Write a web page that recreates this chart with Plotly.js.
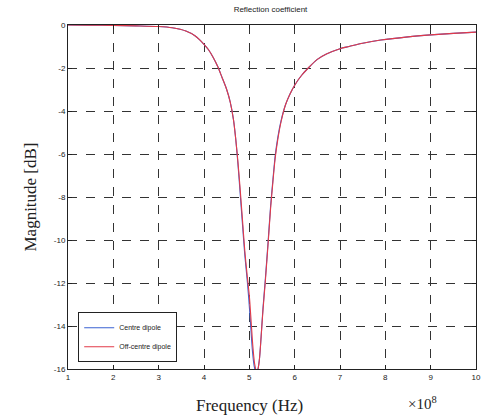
<!DOCTYPE html>
<html>
<head>
<meta charset="utf-8">
<script src="https://cdn.plot.ly/plotly-3.0.1.min.js"></script>
<style>html,body{margin:0;padding:0;background:#fff;}#chart{width:483px;height:420px;}</style>
</head>
<body>
<div id="chart"></div>
<script>
// Frequency in units of 1e8 Hz
const freqCentre = [1.0, 1.5, 2.0, 2.5, 3.0, 3.3, 3.6, 3.8, 3.9, 4.0, 4.1, 4.2, 4.3, 4.4, 4.5, 4.58, 4.65, 4.70, 4.75, 4.8, 4.85, 4.9, 4.95, 4.99, 5.03, 5.07, 5.11, 5.15, 5.18, 5.22, 5.26, 5.30, 5.35, 5.42, 5.47, 5.52, 5.57, 5.63, 5.7, 5.8, 5.9, 6.0, 6.15, 6.3, 6.5, 6.7, 7.0, 7.2, 7.5, 7.9, 8.5, 9.0, 9.5, 10.0];
const magCentre  = [0, -0.01, -0.02, -0.04, -0.07, -0.13, -0.28, -0.5, -0.68, -0.9, -1.15, -1.5, -1.92, -2.45, -3.0, -3.6, -4.4, -5.3, -6.5, -7.9, -9.3, -10.7, -11.8, -12.8, -14.0, -15.2, -15.9, -16.2, -16.1, -15.6, -14.5, -13.2, -11.9, -9.9, -8.4, -7.2, -6.1, -5.2, -4.45, -3.7, -3.2, -2.8, -2.35, -2.0, -1.6, -1.35, -1.1, -1.0, -0.85, -0.7, -0.55, -0.46, -0.39, -0.33];
const freqOff = [1.0, 1.5, 2.0, 2.5, 3.0, 3.3, 3.6, 3.8, 3.9, 4.0, 4.1, 4.2, 4.3, 4.4, 4.5, 4.58, 4.65, 4.70, 4.75, 4.8, 4.85, 4.9, 4.95, 5.0, 5.04, 5.08, 5.12, 5.16, 5.19, 5.22, 5.26, 5.30, 5.35, 5.42, 5.47, 5.52, 5.57, 5.63, 5.7, 5.8, 5.9, 6.0, 6.15, 6.3, 6.5, 6.7, 7.0, 7.2, 7.5, 7.9, 8.5, 9.0, 9.5, 10.0];
const magOff  = [0, -0.01, -0.02, -0.04, -0.07, -0.13, -0.28, -0.5, -0.68, -0.9, -1.15, -1.5, -1.92, -2.45, -3.0, -3.6, -4.4, -5.3, -6.4, -7.7, -9.1, -10.5, -11.6, -12.6, -13.8, -15.0, -15.8, -16.1, -16.0, -15.6, -14.5, -13.3, -12.0, -10.0, -8.5, -7.3, -6.2, -5.3, -4.5, -3.7, -3.2, -2.8, -2.35, -2.0, -1.6, -1.35, -1.1, -1.0, -0.85, -0.7, -0.55, -0.46, -0.39, -0.33];
const xTicks = [1, 2, 3, 4, 5, 6, 7, 8, 9, 10];
const yTicks = [0, -2, -4, -6, -8, -10, -12, -14, -16];
const seriesNames = ['Centre dipole', 'Off-centre dipole'];

const traces = [
  {x: freqCentre, y: magCentre, name: seriesNames[0], mode: 'lines', line: {color: '#3a62d2', width: 1.1, shape: 'spline', smoothing: 0.8}},
  {x: freqOff, y: magOff, name: seriesNames[1], mode: 'lines', line: {color: '#e23a48', width: 1.1, shape: 'spline', smoothing: 0.8}}
];

const serif = 'Liberation Serif, Times New Roman, serif';
const sans = 'Arial, Liberation Sans, sans-serif';

const layout = {
  width: 483, height: 420,
  margin: {l: 68, r: 7, t: 25, b: 51},
  paper_bgcolor: '#fff', plot_bgcolor: '#fff',
  title: {text: 'Reflection coefficient', font: {family: sans, size: 8, color: '#222'}, x: 0.56, xanchor: 'center', y: 0.985, yanchor: 'top'},
  xaxis: {
    range: [1, 10], tickvals: xTicks, ticktext: xTicks.map(String),
    ticks: 'inside', ticklen: 4, tickcolor: '#222', mirror: 'ticks',
    showline: true, linecolor: '#222', linewidth: 1,
    showgrid: true, gridcolor: '#333', griddash: 'dash', gridwidth: 1,
    zeroline: false,
    tickfont: {family: sans, size: 8, color: '#222'}
  },
  yaxis: {
    range: [-16, 0], tickvals: yTicks, ticktext: yTicks.map(String),
    ticks: 'inside', ticklen: 4, tickcolor: '#222', mirror: 'ticks',
    showline: true, linecolor: '#222', linewidth: 1,
    showgrid: true, gridcolor: '#333', griddash: 'dash', gridwidth: 1,
    zeroline: false,
    tickfont: {family: sans, size: 8, color: '#222'},
    title: {text: 'Magnitude [dB]', font: {family: serif, size: 17, color: '#222'}, standoff: 12}
  },
  showlegend: true,
  legend: {
    x: 0.025, y: 0.165, xanchor: 'left', yanchor: 'top',
    bgcolor: '#fff', bordercolor: '#222', borderwidth: 1,
    font: {family: sans, size: 7, color: '#222'},
    tracegroupgap: 0, itemwidth: 30
  },
  annotations: [
    {text: 'Frequency (Hz)', xref: 'paper', yref: 'paper', x: 0.445, y: -0.072, xanchor: 'center', yanchor: 'top', showarrow: false,
     font: {family: serif, size: 17, color: '#222'}},
    {text: '×10<sup>8</sup>', xref: 'paper', yref: 'paper', x: 0.87, y: -0.068, xanchor: 'center', yanchor: 'top', showarrow: false,
     font: {family: serif, size: 15, color: '#222'}}
  ]
};

Plotly.newPlot('chart', traces, layout, {displayModeBar: false, staticPlot: true});
</script>
</body>
</html>
